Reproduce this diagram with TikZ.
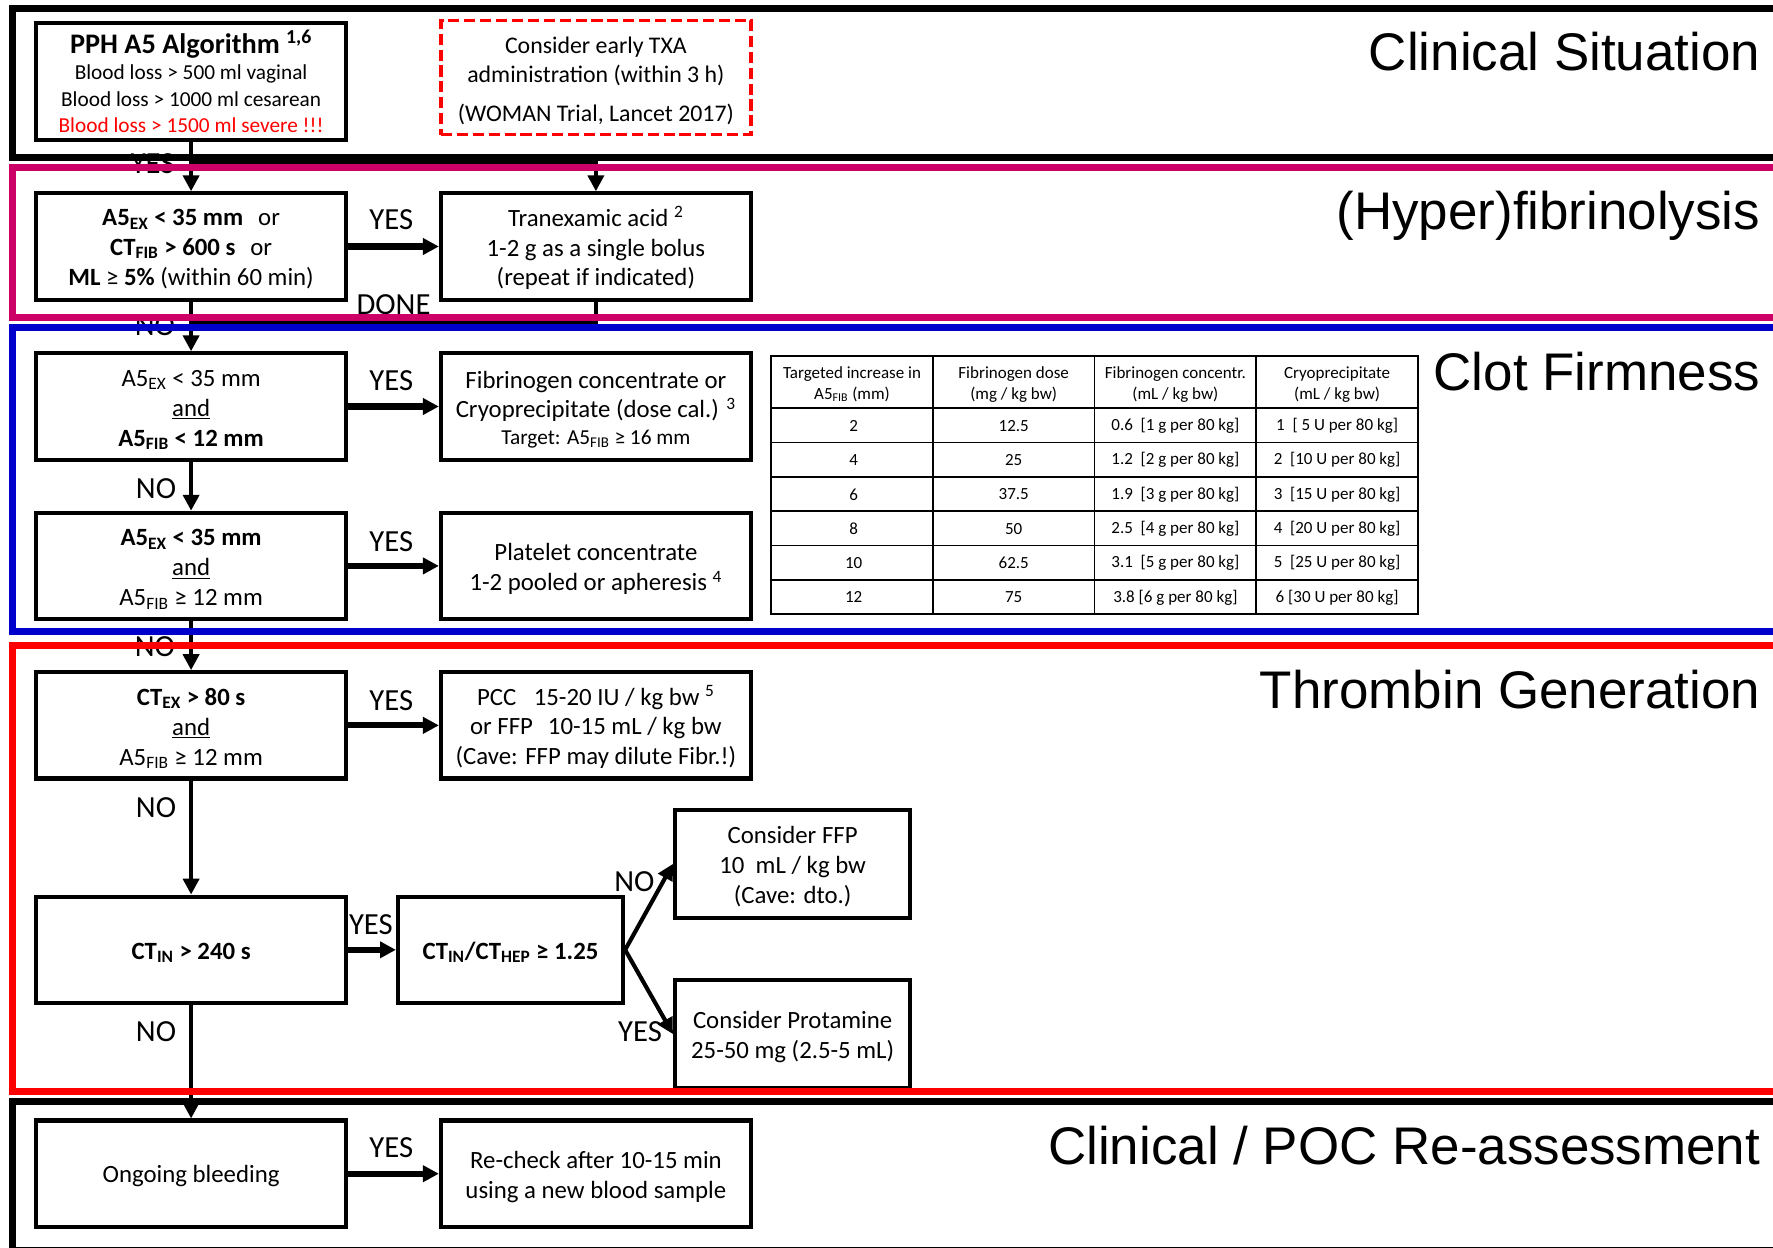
\documentclass[tikz,border=0pt]{standalone}
\usepackage{fontspec}
\setmainfont{Carlito}
\newfontfamily\titlefont{Liberation Sans}
\usetikzlibrary{arrows.meta}

\definecolor{zonemagenta}{RGB}{204,0,102}
\definecolor{zoneblue}{RGB}{0,0,204}
\newcommand{\sbs}[1]{\textsubscript{#1}}
% extra head room on the first line of a multi-line box
\newcommand{\topgap}{\rule{0pt}{14.5pt}}

\begin{document}
\begin{tikzpicture}[x=0.025cm,y=-0.025cm,
    box/.style={draw,line width=2.6pt,minimum width=6.85cm,minimum height=2.35cm,
      inner sep=0pt,align=center,font=\fontsize{15.6}{18.8}\selectfont,
      execute at begin node={\rule{0pt}{14pt}}},
    lbl/.style={inner sep=0pt,font=\fontsize{19.3}{22}\selectfont},
    vflow/.style={line width=2.8pt,-{Triangle[length=10pt,width=10pt]}},
    hflow/.style={line width=3.8pt,-{Triangle[length=10pt,width=10pt]}},
    zone/.style={line width=4.3pt},
    zonetitle/.style={anchor=base east,inner sep=0pt,font=\titlefont\fontsize{33.3}{40}\selectfont},
    tabline/.style={line width=1pt},
    cell/.style={inner sep=0pt,align=center,font=\fontsize{10.7}{12.8}\selectfont}]
  \useasboundingbox (0,0) rectangle (1568,1103);
  \clip (0,0) rectangle (1568,1103);

  % decision boxes, left column
  \node[box,minimum height=2.6cm,font=\fontsize{13.4}{16.7}\selectfont] (pph) at (169,72)
    {{\fontsize{17.8}{21}\selectfont\bfseries PPH A5 Algorithm \textsuperscript{1,6}}\\
     Blood loss > 500 ml vaginal\\
     Blood loss > 1000 ml cesarean\\
     \textcolor{red}{Blood loss > 1500 ml severe !!!}};
  \node[box] (hfib) at (169,218)
    {\rule{0pt}{13.5pt}\textbf{A5\sbs{EX} < 35 mm}\hspace{0.6em}or\\
     \textbf{CT\sbs{FIB} > 600 s}\hspace{0.6em}or\\
     \textbf{ML} ≥ \textbf{5\%} (within 60 min)};
  \node[box] (fibcond) at (169,359.5)
    {\topgap A5\sbs{EX} < 35 mm\\ \underline{and}\\ \textbf{A5\sbs{FIB} < 12 mm}};
  \node[box] (pltcond) at (169,500.5)
    {\topgap\textbf{A5\sbs{EX} < 35 mm}\\ \underline{and}\\ A5\sbs{FIB} ≥ 12 mm};
  \node[box] (ctex) at (169,641.5)
    {\topgap\textbf{CT\sbs{EX} > 80 s}\\ \underline{and}\\ A5\sbs{FIB} ≥ 12 mm};
  \node[box] (ctin) at (169,840) {\textbf{CT\sbs{IN} > 240 s}};
  \node[box] (bleed) at (169,1038) {Ongoing bleeding};

  % treatment boxes, right column
  \node[box,draw=red,line width=2.2pt,dash pattern=on 7pt off 3pt,minimum height=2.525cm,
    font=\fontsize{15}{18.5}\selectfont] (earlytxa) at (527,68.5)
    {\topgap Consider early TXA\\ administration (within 3 h)\\[5.7pt] (WOMAN Trial, Lancet 2017)};
  \node[box] (txa) at (527,218)
    {\topgap Tranexamic acid \textsuperscript{2}\\ 1-2 g as a single bolus\\ (repeat if indicated)};
  \node[box] (fibconc) at (527,359.5)
    {\topgap Fibrinogen concentrate or\\ Cryoprecipitate (dose cal.) \textsuperscript{3}\\[-2.2pt]
     {\fontsize{13.4}{16}\selectfont Target: A5\sbs{FIB} ≥ 16 mm}};
  \node[box] (pltconc) at (527,500.5)
    {\topgap Platelet concentrate\\ 1-2 pooled or apheresis \textsuperscript{4}};
  \node[box] (pcc) at (527,641.5)
    {\topgap PCC\hspace{0.7em}15-20 IU / kg bw \textsuperscript{5}\\
     or FFP\hspace{0.6em}10-15 mL / kg bw\\ (Cave: FFP may dilute Fibr.!)};
  \node[box,minimum width=4.975cm] (ratio) at (451.5,840)
    {\textbf{CT\sbs{IN}/CT\sbs{HEP} ≥ 1.25}};
  \node[box,minimum width=5.2cm,minimum height=2.375cm] (ffp) at (701,764)
    {\topgap Consider FFP\\ 10\ \ mL / kg bw\\ (Cave: dto.)};
  \node[box,minimum width=5.2cm,minimum height=2.375cm] (prot) at (701,914.5)
    {\topgap Consider Protamine\\ 25-50 mg (2.5-5 mL)};
  \node[box] (recheck) at (527,1038)
    {\topgap Re-check after 10-15 min\\ using a new blood sample};

  % dose table
  \draw[tabline] (682,315) rectangle (1254,543);
  \foreach \x in {825,968,1111}
    \draw[tabline] (\x,315) -- (\x,543);
  \foreach \y in {361,391.3,421.7,452,482.3,512.7}
    \draw[tabline] (682,\y) -- (1254,\y);
  \node[cell] (hinc) at (753.5,340) {Targeted increase in\\ A5\sbs{FIB} (mm)};
  \node[cell] (hdose) at (896.5,340) {Fibrinogen dose\\ (mg / kg bw)};
  \node[cell] (hconc) at (1039.5,340) {Fibrinogen concentr.\\ (mL / kg bw)};
  \node[cell] (hcryo) at (1182.5,340) {Cryoprecipitate\\ (mL / kg bw)};
  \foreach \inc/\dose/\conc/\cryo [count=\i] in {
      2/12.5/{0.6\ \ [1 g per 80 kg]}/{1\ \ [\ 5 U per 80 kg]},
      4/25/{1.2\ \ [2 g per 80 kg]}/{2\ \ [10 U per 80 kg]},
      6/37.5/{1.9\ \ [3 g per 80 kg]}/{3\ \ [15 U per 80 kg]},
      8/50/{2.5\ \ [4 g per 80 kg]}/{4\ \ [20 U per 80 kg]},
      10/62.5/{3.1\ \ [5 g per 80 kg]}/{5\ \ [25 U per 80 kg]},
      12/75/{3.8 [6 g per 80 kg]}/{6 [30 U per 80 kg]}} {
    \node[cell] (inc\i) at (755,{346.3+30.33*\i}) {\inc};
    \node[cell] (dose\i) at (896.5,{346.3+30.33*\i}) {\dose};
    \node[cell] (conc\i) at (1039.5,{346.3+30.33*\i}) {\conc};
    \node[cell] (cryo\i) at (1182.5,{346.3+30.33*\i}) {\cryo};
  }

  % connectors
  \coordinate (yesjoin) at (169,144);
  \coordinate (donejoin) at (169,286);
  \draw[vflow] (pph) -- (hfib);
  \draw[vflow] (yesjoin) -| (txa.north);
  \draw[line width=2.8pt] (txa.south) |- (donejoin);
  \draw[hflow] (hfib) -- (txa);
  \draw[vflow] (hfib) -- (fibcond);
  \draw[hflow] (fibcond) -- (fibconc);
  \draw[vflow] (fibcond) -- (pltcond);
  \draw[hflow] (pltcond) -- (pltconc);
  \draw[vflow] (pltcond) -- (ctex);
  \draw[hflow] (ctex) -- (pcc);
  \draw[vflow] (ctex) -- (ctin);
  \draw[hflow] (ctin) -- (ratio);
  \draw[vflow,line width=2.6pt] (ratio.east) -- (ffp.west);
  \draw[vflow,line width=2.6pt] (ratio.east) -- (prot.west);
  \draw[vflow] (ctin) -- (bleed);
  \draw[hflow] (bleed) -- (recheck);

  % branch labels
  \node[lbl] (yes1) at (135,145) {YES};
  \node[lbl] (no1) at (137,288) {NO};
  \node[lbl] (done) at (348,269) {DONE};
  \node[lbl] (yes2) at (346,194) {YES};
  \node[lbl] (yes3) at (346,337) {YES};
  \node[lbl] (no2) at (138,432) {NO};
  \node[lbl] (yes4) at (346,479) {YES};
  \node[lbl] (no3) at (137,572) {NO};
  \node[lbl] (yes5) at (346,620) {YES};
  \node[lbl] (no4) at (138,714) {NO};
  \node[lbl] (yes6) at (328,818) {YES};
  \node[lbl] (no5) at (561,780) {NO};
  \node[lbl] (yes7) at (566,912) {YES};
  \node[lbl] (no6) at (138,912) {NO};
  \node[lbl] (yes8) at (346,1015) {YES};

  % stage frames
  \draw[zone] (11,7.5) rectangle (1620,139);
  \draw[zone,zonemagenta] (11,148.5) rectangle (1620,280.5);
  \draw[zone,zoneblue] (11,290) rectangle (1620,558.5);
  \draw[zone,red] (11,571) rectangle (1620,965);
  \draw[zone] (11,974) rectangle (1620,1106);

  % stage titles
  \node[zonetitle] (tclin) at (1557,62) {Clinical Situation};
  \node[zonetitle] (tfib) at (1557,203) {(Hyper)fibrinolysis};
  \node[zonetitle] (tclot) at (1557,345) {Clot Firmness};
  \node[zonetitle] (tthr) at (1557,627) {Thrombin Generation};
  \node[zonetitle] (treas) at (1557,1030) {Clinical / POC Re-assessment};
\end{tikzpicture}
\end{document}
